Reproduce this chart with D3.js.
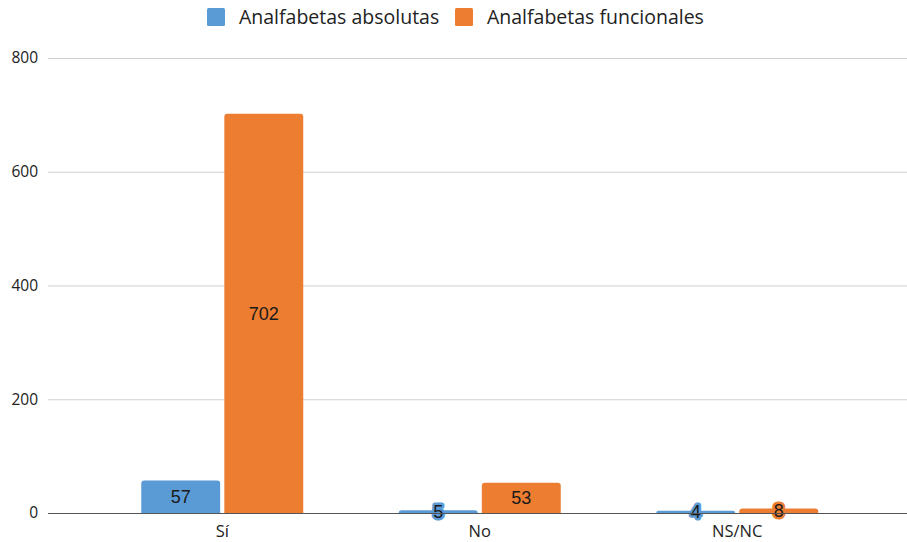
<!DOCTYPE html>
<html>
<head>
<meta charset="utf-8">
<script src="https://cdn.jsdelivr.net/npm/d3@7"></script>
<style>
  html, body { margin: 0; padding: 0; background: #fff; }
  svg { display: block; }
</style>
</head>
<body>
<svg id="chart" width="907" height="542"></svg>
<script>
// Categories, series and axis ticks
const categories = ["Sí", "No", "NS/NC"];
const seriesNames = ["Analfabetas absolutas", "Analfabetas funcionales"];
const absolutas = [57, 5, 4];
const funcionales = [702, 53, 8];
const yTicks = [0, 200, 400, 600, 800];
const colors = ["#5b9bd5", "#ed7d31"];

const seriesValues = [absolutas, funcionales];
const rows = categories.map((c, i) => ({
  category: c,
  values: seriesNames.map((s, k) => ({ key: k, name: s, value: seriesValues[k][i] }))
}));

const plot = { left: 48, right: 907, top: 58, bottom: 513 };

const svg = d3.select("#chart");
const axisFont = "'Open Sans', 'Noto Sans', sans-serif";
const valueFont = "'Liberation Sans', Arial, sans-serif";

// Category bands sit inside the plot with some room on both sides
const x0 = d3.scaleBand()
  .domain(categories)
  .range([93.5, 866])
  .padding(0);

const groupW = 162;
const x1 = d3.scaleBand()
  .domain(d3.range(seriesNames.length))
  .range([0, groupW])
  .paddingInner(0.05)
  .paddingOuter(0);

const y = d3.scaleLinear().domain([0, 800]).range([plot.bottom, plot.top]);

// Horizontal gridlines
svg.append("g")
  .selectAll("line")
  .data(yTicks.filter(t => t !== 0))
  .join("line")
  .attr("x1", plot.left)
  .attr("x2", plot.right)
  .attr("y1", d => y(d) + 0.5)
  .attr("y2", d => y(d) + 0.5)
  .attr("stroke", "#d0d0d0")
  .attr("stroke-width", 1);

// Y axis tick labels
const yAxis = d3.axisLeft(y).tickValues(yTicks).tickSize(0).tickPadding(10);
const yg = svg.append("g").attr("transform", `translate(${plot.left},0)`).call(yAxis);
yg.select(".domain").remove();
yg.selectAll("text")
  .attr("font-family", axisFont)
  .attr("font-size", 15.5)
  .attr("fill", "#222");

// Rounded-top bar path
function barPath(x, yTop, w, h, r) {
  r = Math.min(r, h, w / 2);
  if (h <= 0) return "";
  return `M${x},${yTop + h}V${yTop + r}Q${x},${yTop} ${x + r},${yTop}` +
         `H${x + w - r}Q${x + w},${yTop} ${x + w},${yTop + r}V${yTop + h}Z`;
}

const groups = svg.append("g")
  .selectAll("g")
  .data(rows)
  .join("g")
  .attr("transform", d => `translate(${x0(d.category) + x0.bandwidth() / 2 - groupW / 2},0)`);

groups.selectAll("path")
  .data(d => d.values)
  .join("path")
  .attr("d", d => barPath(x1(d.key), y(d.value), x1.bandwidth(), y(0) - y(d.value), 3))
  .attr("fill", d => colors[d.key]);

// Baseline
svg.append("line")
  .attr("x1", plot.left)
  .attr("x2", plot.right)
  .attr("y1", y(0) + 0.5)
  .attr("y2", y(0) + 0.5)
  .attr("stroke", "#555")
  .attr("stroke-width", 1.2);

// Value labels, with a halo in the bar colour for short bars
groups.selectAll("text.val")
  .data(d => d.values)
  .join("text")
  .attr("class", "val")
  .attr("x", d => x1(d.key) + x1.bandwidth() / 2)
  .attr("y", d => (y(d.value) + y(0)) / 2)
  .attr("dy", "0.36em")
  .attr("text-anchor", "middle")
  .attr("font-family", valueFont)
  .attr("font-size", 18)
  .attr("fill", "#1a1a1a")
  .attr("stroke", d => (y(0) - y(d.value)) < 20 ? colors[d.key] : "none")
  .attr("stroke-width", 5)
  .attr("stroke-linejoin", "round")
  .attr("paint-order", "stroke")
  .text(d => d.value);

// Category labels
svg.append("g")
  .selectAll("text")
  .data(categories)
  .join("text")
  .attr("x", d => x0(d) + x0.bandwidth() / 2)
  .attr("y", 531)
  .attr("dy", "0.36em")
  .attr("text-anchor", "middle")
  .attr("font-family", axisFont)
  .attr("font-size", 16.5)
  .attr("fill", "#222")
  .text(d => d);

// Legend
const legendItems = [
  { name: seriesNames[0], color: colors[0], x: 207 },
  { name: seriesNames[1], color: colors[1], x: 455 }
];
const lg = svg.append("g")
  .selectAll("g")
  .data(legendItems)
  .join("g")
  .attr("transform", d => `translate(${d.x},8)`);
lg.append("rect")
  .attr("width", 18)
  .attr("height", 18)
  .attr("rx", 1.5)
  .attr("fill", d => d.color);
lg.append("text")
  .attr("x", 32)
  .attr("y", 9)
  .attr("dy", "0.36em")
  .attr("font-family", axisFont)
  .attr("font-size", 19.5)
  .attr("fill", "#222")
  .text(d => d.name);
</script>
</body>
</html>
